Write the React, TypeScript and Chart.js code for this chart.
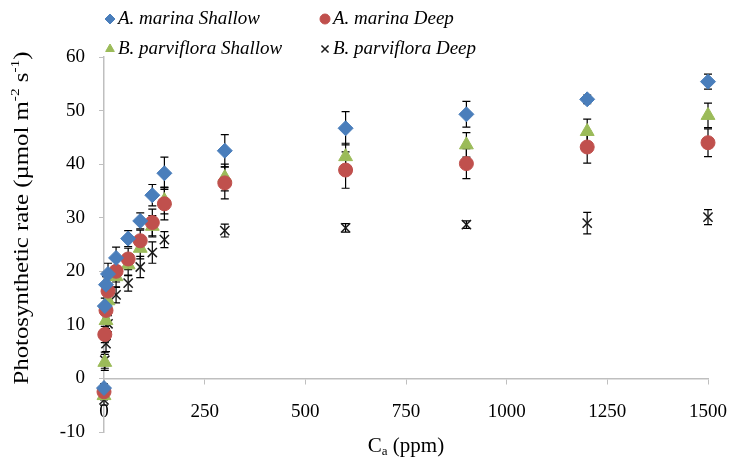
import { useEffect, useRef } from "react";
import { Chart, registerables } from "chart.js";
import { drawPoint } from "chart.js/helpers";

Chart.register(...registerables);

// ---- data ----
const caPpm = [0, 2, 5, 10, 30, 60, 90, 120, 150, 300, 600, 900, 1200, 1500];

const amShallow = [-1.8, 13.5, 17.5, 19.5, 22.5, 26.1, 29.4, 34.2, 38.3, 42.5, 46.7, 49.3, 52.1, 55.4];
const amShallowErr = [0.8, 1.5, 1.5, 2, 2, 1.5, 1.5, 2, 3, 3, 3.1, 2.4, 0.8, 1.4];

const amDeep = [-2.5, 8.2, 12.7, 16.3, 20, 22.3, 25.7, 29.1, 32.6, 36.5, 38.9, 40.1, 43.2, 44];
const amDeepErr = [0.8, 1.5, 1.5, 2, 2, 2, 2, 2.5, 3, 3, 3.4, 2.8, 3, 2.6];

const bpShallow = [-3.2, 3, 10.8, 14.5, 19, 21.2, 24.3, 28.4, 33.2, 37.5, 41.4, 43.6, 46.1, 49.1];
const bpShallowErr = [0.8, 1.5, 1.5, 1.5, 2, 2, 2, 2, 2.5, 2.5, 2.5, 2.3, 2.3, 2.3];

const bpDeep = [-4, 3.4, 6.5, 10.2, 15.6, 17.8, 20.8, 23.5, 25.9, 27.6, 28.1, 28.7, 29, 30.1];
const bpDeepErr = [1, 1.5, 1.5, 1.5, 1.5, 1.5, 2, 2, 1.5, 1.2, 0.8, 0.7, 2, 1.4];

const seriesLabels = ["A. marina Shallow", "A. marina Deep", "B. parviflora Shallow", "B. parviflora Deep"];
const seriesColors = ["#4A7EBB", "#C0504D", "#9BBB59", "#1a1a1a"];
const seriesStyles = ["rectRot", "circle", "triangle", "crossRot"];
const seriesRadius = [7.5, 7, 8, 6.5];

const xMin = 0, xMax = 1500, xStep = 250;
const yMin = -10, yMax = 60, yStep = 10;

const FONT = '"Liberation Serif", "Times New Roman", serif';

const errorBarPlugin = {
  id: "errorBars",
  beforeDatasetsDraw(chart: any) {
    const { ctx, scales } = chart;
    const x = scales.x, y = scales.y;
    ctx.save();
    ctx.strokeStyle = "#000";
    ctx.lineWidth = 1.2;
    chart.data.datasets.forEach((ds: any) => {
      const errs: number[] = ds.errors;
      if (!errs) return;
      ds.data.forEach((pt: any, j: number) => {
        const px = x.getPixelForValue(pt.x);
        const top = y.getPixelForValue(pt.y + errs[j]);
        const bot = y.getPixelForValue(pt.y - errs[j]);
        ctx.beginPath();
        ctx.moveTo(px, top);
        ctx.lineTo(px, bot);
        ctx.moveTo(px - 4, top);
        ctx.lineTo(px + 4, top);
        ctx.moveTo(px - 4, bot);
        ctx.lineTo(px + 4, bot);
        ctx.stroke();
      });
    });
    ctx.restore();
  },
};

const titlesAndLegendPlugin = {
  id: "titlesLegend",
  afterDraw(chart: any) {
    const { ctx, chartArea } = chart;
    ctx.save();
    ctx.fillStyle = "#000";
    // x title: C_a (ppm)
    const cx = (chartArea.left + chartArea.right) / 2;
    const ty = 446;
    ctx.font = `21px ${FONT}`;
    ctx.textBaseline = "middle";
    const wC = ctx.measureText("C").width;
    ctx.font = `13px ${FONT}`;
    const wa = ctx.measureText("a").width;
    ctx.font = `21px ${FONT}`;
    const wRest = ctx.measureText(" (ppm)").width;
    const sx = cx - (wC + wa + wRest) / 2;
    ctx.textAlign = "left";
    ctx.fillText("C", sx, ty);
    ctx.font = `13px ${FONT}`;
    ctx.fillText("a", sx + wC, ty + 6);
    ctx.font = `21px ${FONT}`;
    ctx.fillText(" (ppm)", sx + wC + wa, ty);

    // y title
    const parts: [string, boolean][] = [
      ["Photosynthetic rate (µmol m", false],
      ["-2", true],
      [" s", false],
      ["-1", true],
      [")", false],
    ];
    ctx.translate(22, 218);
    ctx.rotate(-Math.PI / 2);
    ctx.scale(1.18, 1);
    let total = 0;
    parts.forEach(([t, sup]) => {
      ctx.font = sup ? `13px ${FONT}` : `21px ${FONT}`;
      total += ctx.measureText(t).width;
    });
    let px = -total / 2;
    parts.forEach(([t, sup]) => {
      ctx.font = sup ? `13px ${FONT}` : `21px ${FONT}`;
      ctx.fillText(t, px, sup ? -6 : 0);
      px += ctx.measureText(t).width;
    });
    ctx.restore();

    // legend (2 x 2 grid)
    ctx.save();
    const cols = [110, 325];
    const rows = [19, 49];
    chart.data.datasets.forEach((ds: any, i: number) => {
      const mx = cols[i % 2];
      const my = rows[Math.floor(i / 2)];
      ctx.fillStyle = ds.backgroundColor;
      ctx.strokeStyle = ds.borderColor;
      ctx.lineWidth = ds.pointStyle === "crossRot" ? 1.5 : 1;
      drawPoint(ctx, { pointStyle: ds.pointStyle, radius: 5, borderWidth: ctx.lineWidth, rotation: 0 }, mx, my);
      ctx.fillStyle = "#000";
      ctx.font = `italic 19px ${FONT}`;
      ctx.textAlign = "left";
      ctx.textBaseline = "middle";
      ctx.fillText(ds.label, mx + 8, my);
    });
    ctx.restore();
  },
};

function buildDatasets() {
  const ys = [amShallow, amDeep, bpShallow, bpDeep];
  const errs = [amShallowErr, amDeepErr, bpShallowErr, bpDeepErr];
  return ys.map((vals, i) => ({
    label: seriesLabels[i],
    data: vals.map((v, j) => ({ x: caPpm[j], y: v })),
    errors: errs[i],
    showLine: false,
    clip: false,
    pointStyle: seriesStyles[i],
    pointRadius: seriesRadius[i],
    pointHoverRadius: seriesRadius[i],
    backgroundColor: seriesColors[i],
    borderColor: seriesColors[i],
    pointBorderWidth: seriesStyles[i] === "crossRot" ? 1.5 : 1,
  }));
}

export default function App() {
  const ref = useRef<HTMLCanvasElement | null>(null);
  useEffect(() => {
    if (!ref.current) return;
    const chart = new Chart(ref.current, {
      type: "scatter",
      data: { datasets: buildDatasets() as any },
      options: {
        animation: false,
        responsive: false,
        devicePixelRatio: 1,
        layout: { padding: { left: 0, right: 27, top: 57, bottom: 33 } },
        plugins: { legend: { display: false }, tooltip: { enabled: false } },
        scales: {
          x: {
            type: "linear",
            position: { y: 0 } as any,
            min: xMin,
            max: xMax,
            afterFit: (s: any) => {
              s.paddingLeft = 0;
              s.paddingRight = 0;
            },
            ticks: {
              stepSize: xStep,
              color: "#000",
              font: { family: FONT, size: 19 },
              padding: 17,
              maxRotation: 0,
              callback: (v: any) => String(v),
            },
            grid: { drawOnChartArea: false, drawTicks: true, tickLength: 5, color: "#BFBFBF" },
            border: { color: "#BFBFBF", width: 1.5 },
          },
          y: {
            type: "linear",
            min: yMin,
            max: yMax,
            afterFit: (s: any) => {
              s.width = 104;
            },
            ticks: { stepSize: yStep, color: "#000", font: { family: FONT, size: 19 }, padding: 14 },
            grid: { drawOnChartArea: false, drawTicks: true, tickLength: 5, color: "#BFBFBF" },
            border: { color: "#BFBFBF", width: 1.5 },
          },
        },
      },
      plugins: [errorBarPlugin, titlesAndLegendPlugin],
    });
    return () => chart.destroy();
  }, []);
  return (
    <div style={{ position: "absolute", left: 0, top: 0, width: 735, height: 465, background: "#fff" }}>
      <canvas ref={ref} width={735} height={465} style={{ display: "block" }} />
    </div>
  );
}
